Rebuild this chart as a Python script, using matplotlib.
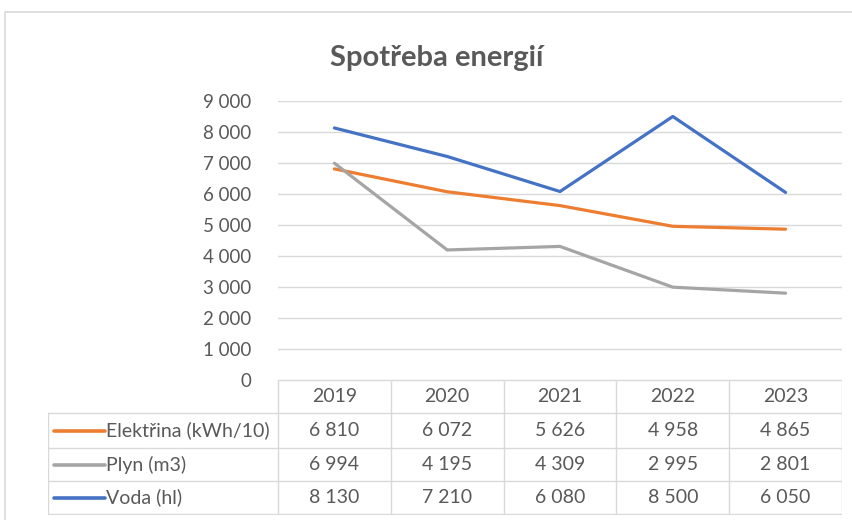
import numpy as np
from matplotlib import pyplot as plt
from matplotlib.patches import Rectangle

years = ['2019', '2020', '2021', '2022', '2023']
series_names = ['Elektřina (kWh/10)', 'Plyn (m3)', 'Voda (hl)']
elektrina = [6810, 6072, 5626, 4958, 4865]
plyn = [6994, 4195, 4309, 2995, 2801]
voda = [8130, 7210, 6080, 8500, 6050]
colors = ['#ED7D31', '#A5A5A5', '#4472C4']
yticks = list(range(0, 9001, 1000))

W, H = 853, 520
TXT = '#595959'
GRID = '#d9d9d9'
plt.rcParams['font.family'] = ['Lato', 'DejaVu Sans']


def fmt(v):
    return f'{v:,}'.replace(',', ' ')


def box(x0, y0, x1, y1):
    # pixel box (top-left origin) -> figure fraction rect
    return [x0 / W, 1 - y1 / H, (x1 - x0) / W, (y1 - y0) / H]


fig = plt.figure(figsize=(W / 100, H / 100), dpi=100)
fig.patches.append(Rectangle((5 / W, -0.01), 1.0, 1 - 12 / H + 0.01,
                             transform=fig.transFigure, fill=False,
                             edgecolor=GRID, linewidth=1.2))

fig.text(437 / W, 1 - 58 / H, 'Spotřeba energií', ha='center', va='center',
         fontsize=21, fontweight='bold', color=TXT)

# plot area
ax = fig.add_axes(box(278, 101, 842, 380))
x = np.arange(len(years))
data = [elektrina, plyn, voda]
for vals, c in zip(data, colors):
    ax.plot(x, vals, color=c, linewidth=2.3, solid_capstyle='round')
ax.set_xlim(-0.5, len(years) - 0.5)
ax.set_ylim(0, 9000)
ax.set_yticks(yticks)
ax.set_yticklabels([fmt(v) for v in yticks], fontsize=13.5, color=TXT)
ax.tick_params(axis='y', length=0, pad=19)
ax.set_xticks([])
ax.grid(axis='y', color=GRID, linewidth=1)
for s in ax.spines.values():
    s.set_visible(False)
ax.set_axisbelow(True)

# data table
colw = (842 - 278) / len(years)
left = -0.5 - (278 - 48) / colw
tax = fig.add_axes(box(48, 380, 842, 515))
tax.set_xlim(left, len(years) - 0.5)
tax.set_ylim(515, 380)
tax.axis('off')
rows = [380, 413, 448, 481, 514]
lw = 1
tax.plot([-0.5, len(years) - 0.5], [rows[0]] * 2, color=GRID, lw=lw)
for r in rows[1:]:
    tax.plot([left, len(years) - 0.5], [r, r], color=GRID, lw=lw)
for i in range(len(years) + 1):
    tax.plot([i - 0.5] * 2, [rows[0], rows[-1]], color=GRID, lw=lw)
tax.plot([left] * 2, [rows[1], rows[-1]], color=GRID, lw=lw)

for i, yr in enumerate(years):
    tax.text(i, (rows[0] + rows[1]) / 2, yr, ha='center', va='center',
             fontsize=14, color=TXT)
for j, (name, vals, c) in enumerate(zip(series_names, data, colors)):
    yc = (rows[j + 1] + rows[j + 2]) / 2
    l0 = left + 6 / colw
    l1 = left + 57 / colw
    tax.plot([l0, l1], [yc, yc], color=c, linewidth=2.6, solid_capstyle='round')
    tax.text(l1 + 1 / colw, yc, name, ha='left', va='center',
             fontsize=14, color=TXT)
    for i, v in enumerate(vals):
        tax.text(i, yc, fmt(v), ha='center', va='center',
                 fontsize=14, color=TXT)

fig.savefig('out.png', dpi=100)
